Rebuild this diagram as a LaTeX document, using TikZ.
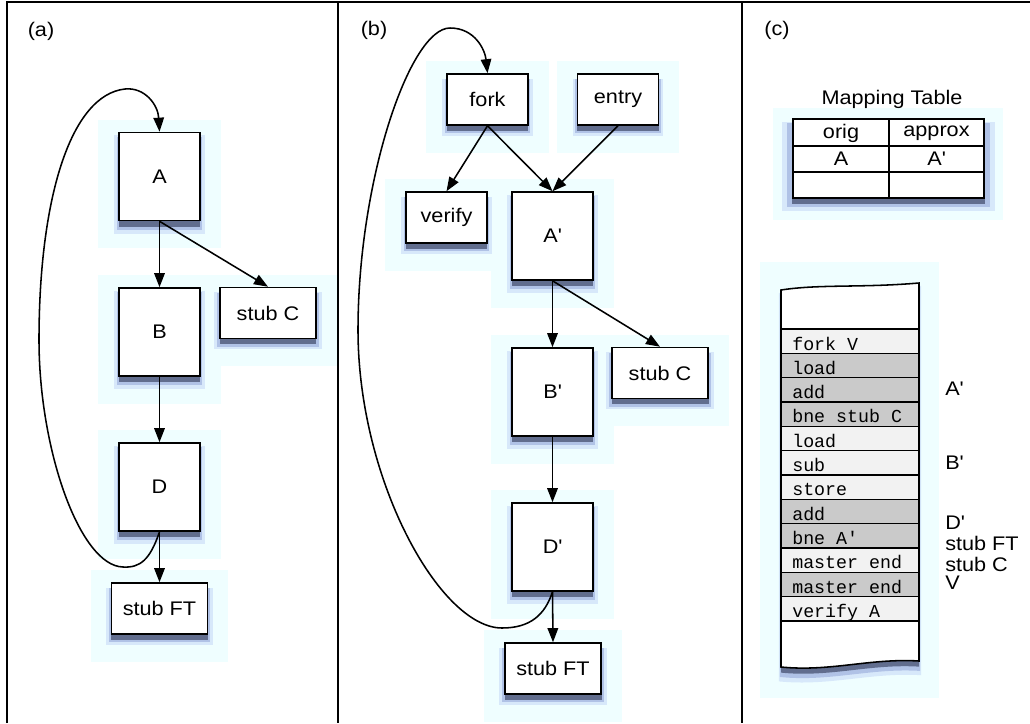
\documentclass[tikz,border=0pt]{standalone}
\usepackage{fontspec}
\setmainfont{Liberation Sans}[FakeStretch=1.1]
\setmonofont{Liberation Mono}
\usetikzlibrary{arrows.meta,shadows,backgrounds}
\definecolor{glowc}{HTML}{EFFEFF}
\definecolor{rowlite}{HTML}{F2F2F2}
\definecolor{rowdark}{HTML}{CACACA}
\definecolor{haloc}{HTML}{6F86E8}
\newcommand{\pnlfont}{\fontsize{14}{16}\selectfont}
\newcommand{\cdfont}{\fontsize{13}{15}\selectfont\ttfamily}
\newcommand{\pr}{\textquotesingle}

\tikzset{
  shade3/.style={
    drop shadow={shadow xshift=0pt, shadow yshift=-5pt, shadow scale=1.12, fill=haloc, opacity=0.18},
    drop shadow={shadow xshift=0pt, shadow yshift=-4.5pt, shadow scale=1.06, fill=haloc!80!black, opacity=0.3},
    drop shadow={shadow xshift=0pt, shadow yshift=-4pt, shadow scale=1.01, fill=haloc!30!black, opacity=0.55}},
  papershade/.style={
    drop shadow={shadow xshift=0pt, shadow yshift=-6pt, shadow scale=1.03, fill=haloc, opacity=0.18},
    drop shadow={shadow xshift=0pt, shadow yshift=-5pt, shadow scale=1.015, fill=haloc!80!black, opacity=0.3},
    drop shadow={shadow xshift=0pt, shadow yshift=-4pt, fill=haloc!30!black, opacity=0.55}},
  blk/.style={draw, line width=1.1pt, fill=white, inner sep=0pt, shade3, font=\pnlfont},
  sq/.style={blk, minimum width=2.025cm, minimum height=2.2cm},
  sm/.style={blk, minimum width=2.025cm, minimum height=1.275cm},
  stub/.style={blk, minimum width=2.4cm, minimum height=1.275cm},
  arr/.style={line width=1.1pt, -{Triangle[length=10pt,width=7.5pt]}},
  lbl/.style={font=\pnlfont, inner sep=0pt},
  code/.style={font=\cdfont, inner sep=0pt},
  panelrule/.style={line width=1.3pt},
}

\begin{document}
\begin{tikzpicture}[x=0.025cm, y=-0.025cm]
  \useasboundingbox (0,0) rectangle (1030,723);
  % panel rules
  \draw[panelrule] (7,723) -- (7,2) -- (1030,2);
  \draw[panelrule] (338,2) -- (338,723);
  \draw[panelrule] (742,2) -- (742,723);
  \node[lbl] (tagA) at (41,31) {(a)};
  \node[lbl] (tagB) at (374,30) {(b)};
  \node[lbl] (tagC) at (777,30) {(c)};

  % (a) original code
  \node[sq] (A) at (159.5,176.5) {A};
  \node[sq] (B) at (159.5,332) {B};
  \node[stub] (stubCa) at (268,313) {stub C};
  \node[sq] (D) at (159.5,487) {D};
  \node[stub] (stubFTa) at (159.5,608.5) {stub FT};
  \draw[arr] (A.south) -- (B.north);
  \draw[arr] (A.south) -- (stubCa.north);
  \draw[arr] (B.south) -- (D.north);
  \draw[arr] (D.south) -- (stubFTa.north);
  \draw[arr] (D.south) .. controls (150,560) and (140,568) .. (123,567)
    .. controls (80,566) and (39,450) .. (39,340)
    .. controls (39,200) and (70,95) .. (125,89)
    .. controls (145,87) and (158,105) .. (A.north);

  % (b) approximate code
  \node[sm] (fork) at (487.5,99.5) {fork};
  \node[sm] (entry) at (618,99.5) {entry};
  \node[sm] (verify) at (446.5,217.5) {verify};
  \node[sq] (Ap) at (552.5,236) {A\pr};
  \node[sq] (Bp) at (552.5,392) {B\pr};
  \node[stub] (stubCb) at (660,373) {stub C};
  \node[sq] (Dp) at (552.5,547) {D\pr};
  \node[stub] (stubFTb) at (553,668.5) {stub FT};
  \draw[arr] (fork.south) -- (verify.north);
  \draw[arr] (fork.south) -- (Ap.north);
  \draw[arr] (entry.south) -- (Ap.north);
  \draw[arr] (Ap.south) -- (Bp.north);
  \draw[arr] (Ap.south) -- (stubCb.north);
  \draw[arr] (Bp.south) -- (Dp.north);
  \draw[arr] (Dp.south) -- (stubFTb.north);
  \draw[arr] (Dp.south) .. controls (545,615) and (530,628) .. (502,628)
    .. controls (440,628) and (358,480) .. (358,330)
    .. controls (358,180) and (410,28) .. (450,28)
    .. controls (475,28) and (485,50) .. (fork.north);

  \begin{scope}[on background layer]
    \foreach \n in {A,B,D,stubCa,stubFTa,fork,entry,verify,Ap,Bp,stubCb,Dp,stubFTb}
      \fill[glowc] ([shift={(-20,27)}]\n.south west) rectangle ([shift={(20,-12)}]\n.north east);
  \end{scope}

  % (c) mapping table
  \fill[glowc] (773,108) rectangle (1003,220);
  \node[lbl] (maptitle) at (892,99) {Mapping Table};
  \draw[line width=1.1pt, fill=white, shade3] (793,119) rectangle (984,198);
  \draw[line width=1.1pt] (889,119) -- (889,198);
  \draw[line width=1.1pt] (793,146) -- (984,146);
  \draw[line width=1.1pt] (793,172) -- (984,172);
  \node[lbl] (orig) at (841,133) {orig};
  \node[lbl] (approx) at (936.5,133) {approx};
  \node[lbl] (origA) at (841,159) {A};
  \node[lbl] (approxA) at (936.5,159) {A\pr};

  % (c) code cache
  \fill[glowc] (760,262) rectangle (939,698);
  \fill[white, papershade] (781,290) .. controls (820,284) and (860,288) .. (919,283)
    -- (919,661) .. controls (870,658) and (830,672) .. (781,667) -- cycle;
  \foreach \txt/\shd [count=\i] in {fork V/rowlite, load/rowdark, add/rowdark,
      bne stub C/rowdark, load/rowlite, sub/rowlite, store/rowlite, add/rowdark,
      bne A\pr/rowdark, master end/rowlite, master end/rowdark, verify A/rowlite} {
    \pgfmathsetmacro\yt{329+(\i-1)*24.33}
    \fill[\shd] (781,\yt) rectangle (919,\yt+24.33);
    \draw[line width=1.1pt] (781,\yt) -- (919,\yt);
    \node[code, anchor=base west] (row\i) at (792,\yt+21) {\txt};
  }
  \draw[line width=1.1pt] (781,621) -- (919,621);
  \draw[line width=1.1pt] (781,290) .. controls (820,284) and (860,288) .. (919,283)
    -- (919,661) .. controls (870,658) and (830,672) .. (781,667) -- cycle;
  \node[lbl, anchor=base west] (tagAp) at (945,395) {A\pr};
  \node[lbl, anchor=base west] (tagBp) at (945,469) {B\pr};
  \node[lbl, anchor=base west] (tagDp) at (945,529) {D\pr};
  \node[lbl, anchor=base west] (tagFT) at (945,550) {stub FT};
  \node[lbl, anchor=base west] (tagSC) at (945,571) {stub C};
  \node[lbl, anchor=base west] (tagV) at (945,589) {V};
\end{tikzpicture}
\end{document}
